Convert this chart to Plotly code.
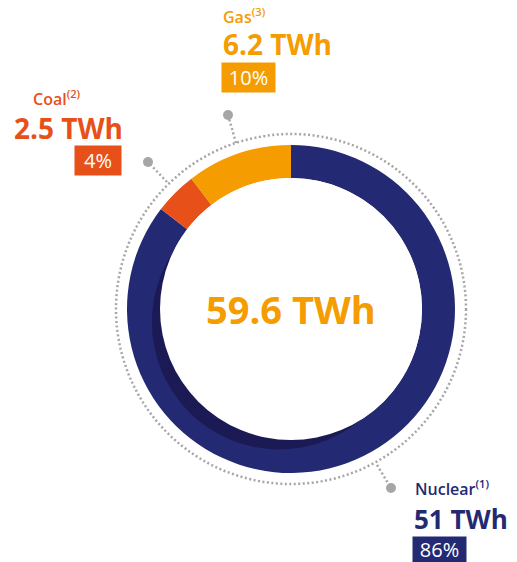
import math
import plotly.graph_objects as go

# data
sources = ["Nuclear", "Coal", "Gas"]
notes = ["(1)", "(2)", "(3)"]
twh = [51, 2.5, 6.2]
twh_labels = ["51 TWh", "2.5 TWh", "6.2 TWh"]
shares = ["86%", "4%", "10%"]
total_label = "59.6 TWh"

NAVY = "#232a73"
SHADOW = "#1b1a55"
COAL = "#e8501a"
GAS = "#f49c00"
GREY = "#a6a6a6"
colors = [NAVY, COAL, GAS]

W, H = 517, 562
CX, CY = 291, 309
R_OUT, R_IN = 164, 131
R_DOT = 175
FONT = "Open Sans"

fig = go.Figure()
fig.add_trace(go.Scatter(x=[0], y=[0], mode="markers", marker=dict(opacity=0), hoverinfo="skip", showlegend=False))
fig.add_trace(go.Pie(
    labels=sources, values=twh, sort=False, direction="clockwise", rotation=0,
    hole=R_IN / R_OUT, marker=dict(colors=colors, line=dict(width=0)),
    textinfo="none", hoverinfo="label+value", showlegend=False,
    domain=dict(x=[(CX - R_OUT) / W, (CX + R_OUT) / W], y=[(H - CY - R_OUT) / H, (H - CY + R_OUT) / H]),
))

shapes = []
# dotted outer ring
shapes.append(dict(type="circle", xref="x", yref="y", x0=CX - R_DOT, x1=CX + R_DOT, y0=CY - R_DOT, y1=CY + R_DOT,
                   line=dict(color=GREY, width=2.5, dash="2px,2.5px"), layer="above"))
# inner shadow crescent: dark offset circle, then white hole on top
off, rc, ang = 17.7, 127.3, math.radians(228)
sx, sy = CX + off * math.cos(ang), CY - off * math.sin(ang)
shapes.append(dict(type="circle", xref="x", yref="y", x0=sx - rc, x1=sx + rc, y0=sy - rc, y1=sy + rc,
                   fillcolor=SHADOW, line=dict(width=0), layer="above"))
shapes.append(dict(type="circle", xref="x", yref="y", x0=CX - R_IN, x1=CX + R_IN, y0=CY - R_IN, y1=CY + R_IN,
                   fillcolor="white", line=dict(width=0), layer="above"))

# leader lines (start on dotted ring, end at dot)
leaders = [((377, 465), (391, 488)), ((167, 182), (148, 162)), ((236, 143), (228, 115))]
for (x0, y0), (x1, y1) in leaders:
    shapes.append(dict(type="line", xref="x", yref="y", x0=x0, y0=y0, x1=x1, y1=y1,
                       line=dict(color=GREY, width=2.5, dash="2px,2.5px"), layer="above"))
    shapes.append(dict(type="circle", xref="x", yref="y", x0=x1 - 5, x1=x1 + 5, y0=y1 - 5, y1=y1 + 5,
                       fillcolor=GREY, line=dict(width=0), layer="above"))

annotations = []
# label blocks: (name x, name y, value x, value y, value size, box centre x, box centre y, box w, box h)
blocks = [
    (413, 488, 412, 519, 26, 439.5, 549, 53, 25),
    (31, 98, 12, 128, 28, 98, 160.5, 46, 29),
    (221, 16, 221, 44, 28, 248.5, 77.5, 53, 29),
]
for i, (nx, ny, vx, vy, vs, bx, by, bw, bh) in enumerate(blocks):
    annotations.append(dict(x=nx, y=ny, xref="x", yref="y", xanchor="left", yanchor="middle", showarrow=False,
                            text=f"{sources[i]}<sup>{notes[i]}</sup>",
                            font=dict(family=FONT, size=16, color=colors[i], weight=600)))
    annotations.append(dict(x=vx, y=vy, xref="x", yref="y", xanchor="left", yanchor="middle", showarrow=False,
                            text=f"<b>{twh_labels[i]}</b>", font=dict(family=FONT, size=vs, color=colors[i])))
    annotations.append(dict(x=bx, y=by, xref="x", yref="y", xanchor="center", yanchor="middle", showarrow=False,
                            text=shares[i], width=bw, height=bh, bgcolor=colors[i], borderpad=0,
                            font=dict(family=FONT, size=20, color="white")))
annotations.append(dict(x=CX, y=CY, xref="x", yref="y", xanchor="center", yanchor="middle", showarrow=False,
                        text=f"<b>{total_label}</b>", font=dict(family=FONT, size=38, color=GAS)))

fig.update_layout(
    width=W, height=H, margin=dict(l=0, r=0, t=0, b=0),
    paper_bgcolor="white", plot_bgcolor="white",
    xaxis=dict(range=[0, W], visible=False, fixedrange=True),
    yaxis=dict(range=[H, 0], visible=False, fixedrange=True),
    shapes=shapes, annotations=annotations,
)
fig.write_html("out.html", config={"displayModeBar": False}, post_script="document.body.style.margin='0';")
